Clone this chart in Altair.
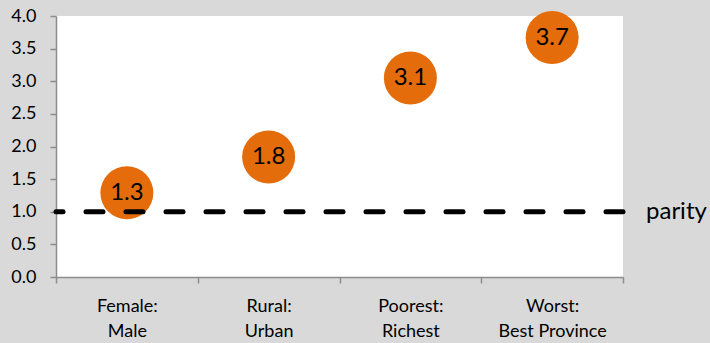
import altair as alt
import pandas as pd

categories = ["Female:|Male", "Rural:|Urban", "Poorest:|Richest", "Worst:|Best Province"]
values = [1.29, 1.84, 3.05, 3.67]
labels = ["1.3", "1.8", "3.1", "3.7"]
y_ticks = [0.0, 0.5, 1.0, 1.5, 2.0, 2.5, 3.0, 3.5, 4.0]
parity_value = 1.0

df = pd.DataFrame({"cat": categories, "val": values, "lab": labels})

FONT = "Lato"
W, H = 567, 261
yscale = alt.Scale(domain=[0, 4], nice=False, zero=True)
xscale = alt.Scale(paddingInner=0, paddingOuter=0)

x_axis = alt.Axis(
    title=None,
    labelExpr="isString(datum.value) ? split(datum.value, '|') : ''",
    labelAngle=0,
    tickBand="extent",
    labelFontSize=18,
    labelLineHeight=25,
    labelPadding=14,
    labelColor="#000000",
    labelFont=FONT,
    domainColor="#8c8c8c",
    tickColor="#8c8c8c",
    domainWidth=1.5,
    tickWidth=1.5,
    tickSize=6,
)
y_axis = alt.Axis(
    title=None,
    values=y_ticks,
    format=".1f",
    grid=False,
    labelOverlap=False,
    labelFontSize=18,
    labelPadding=14,
    labelColor="#000000",
    labelFont=FONT,
    domainColor="#8c8c8c",
    tickColor="#8c8c8c",
    domainWidth=1.5,
    tickWidth=1.5,
    tickSize=6,
)

rule = alt.Chart(pd.DataFrame({"val": [parity_value]})).mark_rule(
    color="#000000", strokeWidth=5, strokeDash=[17, 23], strokeCap="round"
).encode(y=alt.Y("val:Q", scale=yscale, axis=y_axis))

parity_text = alt.Chart(pd.DataFrame({"val": [parity_value], "t": ["parity"]})).mark_text(
    align="left", baseline="middle", fontSize=24, font=FONT, color="#000000", dx=23
).encode(x=alt.value(W), y=alt.Y("val:Q", scale=yscale, axis=y_axis), text="t:N")

points = alt.Chart(df).mark_circle(size=2810, color="#E46C0A", opacity=1).encode(
    x=alt.X("cat:N", sort=categories, scale=xscale, axis=x_axis),
    y=alt.Y("val:Q", scale=yscale, axis=y_axis),
)
texts = alt.Chart(df).mark_text(fontSize=24, font=FONT, color="#000000", baseline="middle").encode(
    x=alt.X("cat:N", sort=categories, scale=xscale, axis=x_axis),
    y=alt.Y("val:Q", scale=yscale, axis=y_axis),
    text="lab:N",
)

chart = (
    alt.layer(points, rule, texts, parity_text)
    .properties(
        width=W,
        height=H,
        background="#D9D9D9",
        padding={"left": 56, "top": 16, "right": 87, "bottom": 66},
        autosize=alt.AutoSizeParams(type="none"),
    )
    .configure_view(fill="#FFFFFF", stroke=None)
)

chart.save("out.html", embed_options={"renderer": "svg", "actions": False})
